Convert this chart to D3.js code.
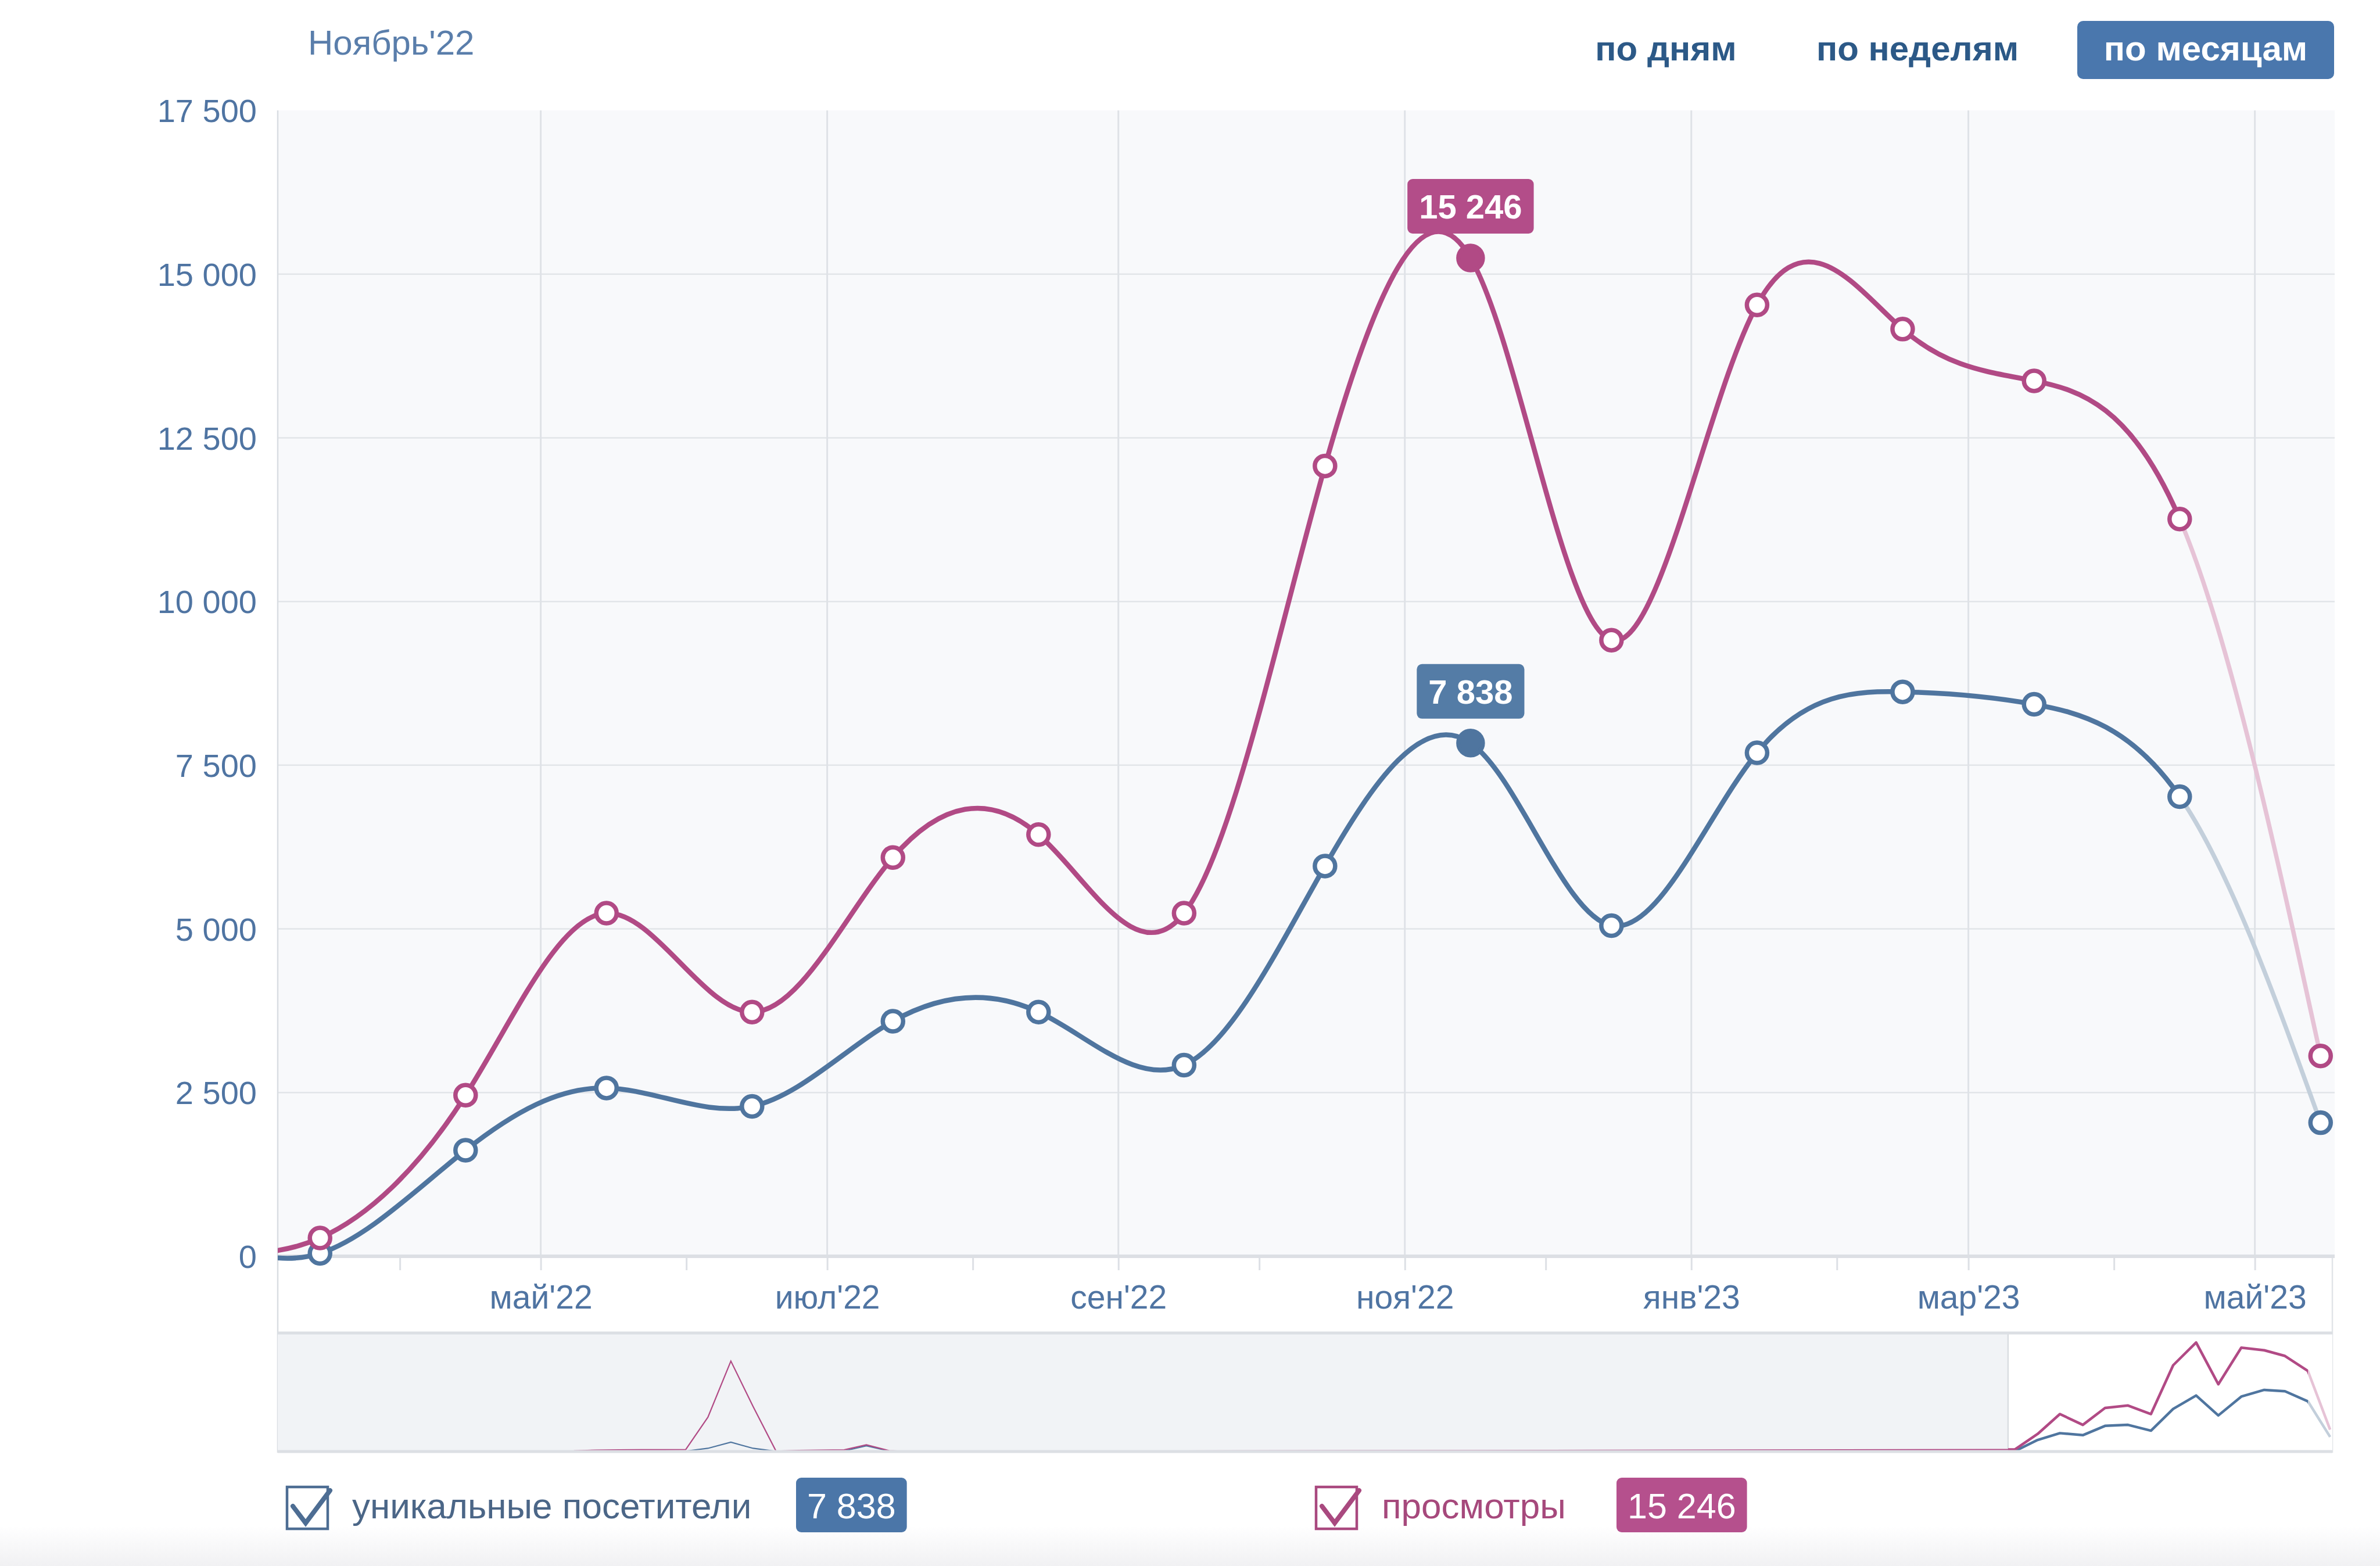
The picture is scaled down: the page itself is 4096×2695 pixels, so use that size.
<!doctype html>
<html>
<head>
<meta charset="utf-8">
<script src="https://cdnjs.cloudflare.com/ajax/libs/d3/7.8.5/d3.min.js"></script>
<style>
  html, body { margin: 0; padding: 0; background: #fff; }
  svg { display: block; font-family: "Liberation Sans", Arial, sans-serif; }
</style>
</head>
<body>
<script>

// monthly values, each point sits on the 15th of its month
var months   = ["2022-02","2022-03","2022-04","2022-05","2022-06","2022-07","2022-08","2022-09",
                "2022-10","2022-11","2022-12","2023-01","2023-02","2023-03","2023-04","2023-05"];
var visitors = [450, 45, 1620, 2570, 2290, 3590, 3730, 2920, 5960, 7838, 5050, 7690, 8620, 8430, 7020, 2040];
var views    = [120, 280, 2460, 5240, 3730, 6090, 6440, 5240, 12070, 15246, 9410, 14530, 14160, 13370, 11260, 3060];

// early history shown only in the navigator strip
var navMonths   = ["2016-08","2016-09","2016-10","2016-11","2016-12","2017-01","2017-02","2017-03","2017-04",
                   "2017-05","2017-06","2017-07","2017-08","2017-09","2017-10","2017-11","2017-12","2018-01","2018-02"];
var navViews    = [0, 60, 70, 90, 200, 240, 250, 260, 280, 4800, 12650, 6300, 60, 150, 200, 230, 950, 120, 0];
var navVisitors = [0, 20, 25, 30, 40, 50, 50, 60, 60, 450, 1300, 450, 30, 50, 60, 80, 800, 60, 0];

var yTicks = [0, 2500, 5000, 7500, 10000, 12500, 15000, 17500];
var monthNames = ["янв","фев","мар","апр","май","июн","июл","авг","сен","окт","ноя","дек"];
var selectedMonth = "2022-11";
var selectedTitle = "Ноябрь'22";
var periodButtons = ["по дням", "по неделям", "по месяцам"];
var seriesNames = ["уникальные посетители", "просмотры"];

var BLUE = "#4f759f", PINK = "#b14a85";
var BLUE_FADE = "#c3cfdb", PINK_FADE = "#e6c3d6";
var LABEL = "#4f74a2";

var W = 4096, H = 2695;
var svg = d3.select("body").append("svg").attr("width", W).attr("height", H);

var parse = d3.timeParse("%Y-%m-%d");
function mid(m) { return parse(m + "-15"); }

var ru = d3.formatLocale({decimal: ",", thousands: "\u00a0", grouping: [3], currency: ["", ""]});
var fmt = ru.format(",");

// scales
var x = d3.scaleTime().domain([parse("2022-03-06"), parse("2023-05-18")]).range([478, 4018]);
var y = d3.scaleLinear().domain([0, 17500]).range([2162, 190]);

var navX = d3.scaleTime().domain([parse("2015-10-12"), parse("2023-05-18")]).range([478, 4014]);
var navY = d3.scaleLinear().domain([0, 16500]).range([2498, 2295]);

var defs = svg.append("defs");
var grad = defs.append("linearGradient").attr("id", "foot").attr("x1", 0).attr("y1", 0).attr("x2", 0).attr("y2", 1);
grad.append("stop").attr("offset", "0%").attr("stop-color", "#ffffff");
grad.append("stop").attr("offset", "100%").attr("stop-color", "#f1f1f3");
svg.append("rect").attr("x", 0).attr("y", 2625).attr("width", W).attr("height", H - 2625).attr("fill", "url(#foot)");

// plot background
svg.append("rect").attr("x", 478).attr("y", 190).attr("width", 4018 - 478).attr("height", 2162 - 190)
  .attr("fill", "#f8f9fb");

// horizontal grid
svg.append("g").selectAll("line").data(yTicks.filter(function(d) { return d > 0 && d < 17500; }))
  .enter().append("line")
    .attr("x1", 478).attr("x2", 4018)
    .attr("y1", function(d) { return y(d); }).attr("y2", function(d) { return y(d); })
    .attr("stroke", "#e2e5e9").attr("stroke-width", 2.5);

// vertical grid on every second month
var monthTicks = d3.timeMonth.range(d3.timeMonth.ceil(x.domain()[0]), x.domain()[1]);
svg.append("g").selectAll("line").data(monthTicks.filter(function(d) { return d.getMonth() % 2 === 0; }))
  .enter().append("line")
    .attr("x1", function(d) { return x(d); }).attr("x2", function(d) { return x(d); })
    .attr("y1", 190).attr("y2", 2162)
    .attr("stroke", "#dfe2e7").attr("stroke-width", 3);

// y axis labels
svg.append("g").selectAll("text").data(yTicks).enter().append("text")
  .attr("x", 442).attr("y", function(d) { return y(d); }).attr("dy", "0.36em")
  .attr("text-anchor", "end").attr("fill", LABEL).attr("font-size", 56)
  .text(function(d) { return fmt(d); });

// x axis
var xAxis = d3.axisBottom(x)
  .ticks(d3.timeMonth.every(1))
  .tickSize(24).tickPadding(26)
  .tickFormat(function(d) {
    return d.getMonth() % 2 === 0 ? monthNames[d.getMonth()] + "'" + d3.timeFormat("%y")(d) : "";
  });
var gx = svg.append("g").attr("transform", "translate(0,2162)").call(xAxis);
gx.select(".domain").remove();
gx.selectAll(".tick line").attr("stroke", "#dde0e5").attr("stroke-width", 3);
gx.selectAll(".tick text").attr("fill", LABEL).attr("font-size", 57)
  .attr("font-family", "'Liberation Sans', Arial, sans-serif");

// frame lines around plot bottom, navigator
svg.append("line").attr("x1", 478).attr("x2", 4018).attr("y1", 2162).attr("y2", 2162)
  .attr("stroke", "#dcdfe4").attr("stroke-width", 6);
svg.append("line").attr("x1", 478).attr("x2", 478).attr("y1", 190).attr("y2", 2500)
  .attr("stroke", "#d9dde2").attr("stroke-width", 2.5);
svg.append("line").attr("x1", 4014).attr("x2", 4014).attr("y1", 2165).attr("y2", 2500)
  .attr("stroke", "#e1e4e8").attr("stroke-width", 2.5);

// ---- navigator ----
// navigator history: early months, then the visible period from Mar'22
var navDates = navMonths.concat(months.slice(1)).map(mid);
var navV = navViews.concat(views.slice(1));
var navU = navVisitors.concat(visitors.slice(1));
var winL = navX(x.domain()[0]), winR = 4014;

svg.append("rect").attr("x", 478).attr("y", 2294).attr("width", winL - 478).attr("height", 2498 - 2294)
  .attr("fill", "#f1f3f6");
svg.append("rect").attr("x", winL).attr("y", 2294).attr("width", winR - winL).attr("height", 2498 - 2294)
  .attr("fill", "#ffffff");
svg.append("line").attr("x1", winL).attr("x2", winL).attr("y1", 2294).attr("y2", 2498)
  .attr("stroke", "#dadde2").attr("stroke-width", 2.5);

defs.append("clipPath").attr("id", "navOut").append("rect")
  .attr("x", 478).attr("y", 2200).attr("width", winL - 478).attr("height", 320);
var lastX = navX(mid(months[months.length - 2]));
defs.append("clipPath").attr("id", "navIn").append("rect")
  .attr("x", winL).attr("y", 2200).attr("width", lastX - winL).attr("height", 320);
defs.append("clipPath").attr("id", "navLast").append("rect")
  .attr("x", lastX).attr("y", 2200).attr("width", winR - lastX).attr("height", 320);

function navLine(vals) {
  return d3.line().x(function(d, i) { return navX(navDates[i]); }).y(function(d) { return navY(d); })(vals);
}
[[navU, BLUE, BLUE_FADE], [navV, PINK, PINK_FADE]].forEach(function(s) {
  svg.append("path").attr("d", navLine(s[0])).attr("fill", "none").attr("stroke", s[1])
    .attr("stroke-width", 2.2).attr("clip-path", "url(#navOut)");
  svg.append("path").attr("d", navLine(s[0])).attr("fill", "none").attr("stroke", s[1])
    .attr("stroke-width", 4.5).attr("stroke-linejoin", "round").attr("clip-path", "url(#navIn)");
  svg.append("path").attr("d", navLine(s[0])).attr("fill", "none").attr("stroke", s[2])
    .attr("stroke-width", 4.5).attr("clip-path", "url(#navLast)");
});

svg.append("line").attr("x1", 478).attr("x2", 4014).attr("y1", 2294).attr("y2", 2294)
  .attr("stroke", "#dcdfe4").attr("stroke-width", 5);
svg.append("line").attr("x1", 478).attr("x2", 4014).attr("y1", 2498).attr("y2", 2498)
  .attr("stroke", "#dcdfe4").attr("stroke-width", 5);

// ---- main lines ----
var dates = months.map(mid);
var aprX = x(dates[dates.length - 2]);
defs.append("clipPath").attr("id", "solid").append("rect")
  .attr("x", 478).attr("y", 100).attr("width", aprX - 478).attr("height", 2100);
defs.append("clipPath").attr("id", "faded").append("rect")
  .attr("x", aprX).attr("y", 100).attr("width", 4018 - aprX).attr("height", 2100);

var line = d3.line().curve(d3.curveNatural)
  .x(function(d, i) { return x(dates[i]); })
  .y(function(d) { return y(d); });

var series = [
  {name: seriesNames[0], vals: visitors, color: BLUE, fade: BLUE_FADE},
  {name: seriesNames[1], vals: views, color: PINK, fade: PINK_FADE}
];
var selIdx = months.indexOf(selectedMonth);

series.forEach(function(s) {
  svg.append("path").attr("d", line(s.vals)).attr("fill", "none").attr("stroke", s.fade)
    .attr("stroke-width", 7.5).attr("clip-path", "url(#faded)");
  svg.append("path").attr("d", line(s.vals)).attr("fill", "none").attr("stroke", s.color)
    .attr("stroke-width", 8.5).attr("clip-path", "url(#solid)");
  svg.append("g").selectAll("circle").data(s.vals.slice(1)).enter().append("circle")
    .attr("cx", function(d, i) { return x(dates[i + 1]); })
    .attr("cy", function(d) { return y(d); })
    .attr("r", function(d, i) { return i + 1 === selIdx ? 21 : 17.5; })
    .attr("fill", function(d, i) { return i + 1 === selIdx ? s.color : "#ffffff"; })
    .attr("stroke", s.color).attr("stroke-width", 7.5);
});

// value badges above selected month
series.forEach(function(s) {
  var v = s.vals[selIdx];
  var cx = x(dates[selIdx]), cy = y(v);
  var g = svg.append("g");
  var t = g.append("text").attr("x", cx).attr("y", cy - 42 - 26).attr("text-anchor", "middle")
    .attr("fill", "#fff").attr("font-size", 58).attr("font-weight", "bold").text(fmt(v));
  var w = t.node().getComputedTextLength() + 40;
  g.insert("rect", "text").attr("x", cx - w / 2).attr("y", cy - 42 - 94).attr("width", w).attr("height", 94)
    .attr("rx", 9).attr("fill", s.color === PINK ? "#b34d89" : "#547ca6");
});

// ---- header ----
svg.append("text").attr("x", 530).attr("y", 94).attr("fill", "#5a7eab").attr("font-size", 60)
  .text(selectedTitle);

var btnCenters = [2867, 3300, 3796];
svg.append("rect").attr("x", 3575).attr("y", 36).attr("width", 442).attr("height", 100).attr("rx", 10)
  .attr("fill", "#4a77ad");
svg.append("g").selectAll("text").data(periodButtons).enter().append("text")
  .attr("x", function(d, i) { return btnCenters[i]; }).attr("y", 104)
  .attr("text-anchor", "middle").attr("font-size", 60).attr("font-weight", "bold")
  .attr("fill", function(d, i) { return i === 2 ? "#ffffff" : "#2c5987"; })
  .text(function(d) { return d; });

// ---- legend ----
var legend = [
  {box: 494, text: 606, badge: 1370, color: "#4d6d93", textColor: "#4b6687", badgeColor: "#4b76a8", s: series[0]},
  {box: 2265, text: 2378, badge: 2782, color: "#a9497f", textColor: "#a6497c", badgeColor: "#b5508d", s: series[1]}
];
legend.forEach(function(l) {
  var g = svg.append("g");
  g.append("rect").attr("x", l.box).attr("y", 2559).attr("width", 70).attr("height", 72)
    .attr("fill", "#fff").attr("stroke", l.color).attr("stroke-width", 4.5);
  g.append("path")
    .attr("d", "M" + (l.box + 10) + ",2592 L" + (l.box + 32) + ",2621 L" + (l.box + 74) + ",2565")
    .attr("fill", "none").attr("stroke", l.color).attr("stroke-width", 8).attr("stroke-linecap", "round");
  g.append("text").attr("x", l.text).attr("y", 2613).attr("fill", l.textColor).attr("font-size", 62)
    .text(l.s.name);
  var t = g.append("text").attr("x", l.badge + 19).attr("y", 2613).attr("fill", "#fff").attr("font-size", 61)
    .text(fmt(l.s.vals[selIdx]));
  var w = t.node().getComputedTextLength() + 38;
  g.insert("rect", "text").attr("x", l.badge).attr("y", 2543).attr("width", w).attr("height", 94)
    .attr("rx", 9).attr("fill", l.badgeColor);
});

</script>
</body>
</html>
